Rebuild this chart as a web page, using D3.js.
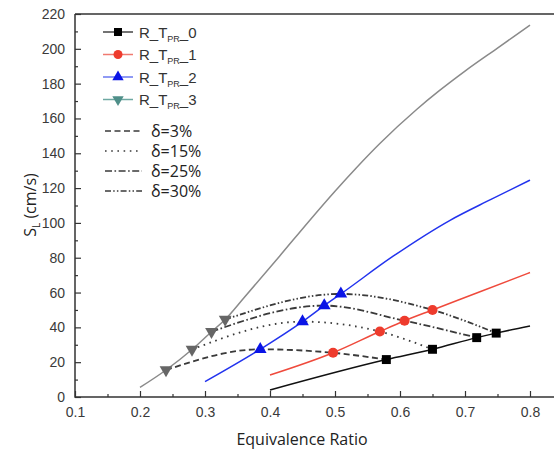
<!DOCTYPE html>
<html>
<head>
<meta charset="utf-8">
<script src="https://cdn.jsdelivr.net/npm/d3@7"></script>
<style>
  html, body { margin: 0; padding: 0; background: #fff; }
  svg { display: block; }
</style>
</head>
<body>
<svg id="chart" width="554" height="452"></svg>
<script>
// Laminar flame speed curves, one per R_T_PR case
const phi0 = [0.40, 0.579, 0.65, 0.718, 0.748, 0.80];
const sl0  = [4.0, 21.5, 27.4, 34.1, 36.7, 40.8];
const phi1 = [0.40, 0.497, 0.569, 0.607, 0.65, 0.72, 0.80];
const sl1  = [12.6, 25.4, 37.6, 43.8, 50.0, 60.0, 71.5];
const phi2 = [0.30, 0.385, 0.45, 0.4835, 0.509, 0.59, 0.677, 0.74, 0.80];
const sl2  = [8.8, 27.4, 43.3, 52.5, 59.2, 81.0, 101.5, 113.5, 124.6];
const phi3 = [0.20, 0.24, 0.28, 0.31, 0.331, 0.36, 0.415, 0.46, 0.50, 0.533, 0.569, 0.626, 0.66, 0.70, 0.75, 0.80];
const sl3  = [5.5, 15.5, 27.3, 37.5, 44.5, 57.0, 81.0, 101.0, 118.2, 131.7, 145.6, 165.3, 175.8, 187.2, 200.4, 213.6];

// Marked points on each curve, ordered by delta (3%, 15%, 25%, 30%)
const markPhi0 = [0.579, 0.65, 0.718, 0.748];
const markSl0  = [21.5, 27.4, 34.1, 36.7];
const markPhi1 = [0.497, 0.569, 0.607, 0.65];
const markSl1  = [25.4, 37.6, 43.8, 50.0];
const markPhi2 = [0.385, 0.45, 0.4835, 0.509];
const markSl2  = [27.4, 43.3, 52.5, 59.2];
const markPhi3 = [0.24, 0.28, 0.31, 0.331];
const markSl3  = [15.5, 27.3, 37.5, 44.5];

const seriesNames = ["0", "1", "2", "3"];
const deltaLabels = ["δ=3%", "δ=15%", "δ=25%", "δ=30%"];
const xTicks = [0.1, 0.2, 0.3, 0.4, 0.5, 0.6, 0.7, 0.8];
const yTicks = [0, 20, 40, 60, 80, 100, 120, 140, 160, 180, 200, 220];

const zip = (a, b) => a.map((v, i) => [v, b[i]]);

const series = [
  { name: seriesNames[0], pts: zip(phi0, sl0), marks: zip(markPhi0, markSl0), line: "#111", fill: "#000", legendLine: "#444", legendFill: "#000", shape: d3.symbolSquare, size: 80, rot: 0 },
  { name: seriesNames[1], pts: zip(phi1, sl1), marks: zip(markPhi1, markSl1), line: "#ef4a3c", fill: "#ee3b2d", legendLine: "#f07a70", legendFill: "#ee3b2d", shape: d3.symbolCircle, size: 80, rot: 0 },
  { name: seriesNames[2], pts: zip(phi2, sl2), marks: zip(markPhi2, markSl2), line: "#2233ee", fill: "#0a14e6", legendLine: "#6a78f0", legendFill: "#0a14e6", shape: d3.symbolTriangle, size: 70, rot: 0 },
  { name: seriesNames[3], pts: zip(phi3, sl3), marks: zip(markPhi3, markSl3), line: "#8a8a8a", fill: "#666", legendLine: "#6ea8a2", legendFill: "#4f8f89", shape: d3.symbolTriangle, size: 70, rot: 180 }
];

const dashes = ["6,3.5", "1.6,4.6", "7,2.5,1.6,2.5", "6,2.2,1.5,2.2,1.5,2.2"];

const svg = d3.select("#chart");
const x = d3.scaleLinear().domain([0.1, 0.8]).range([75, 530]);
const y = d3.scaleLinear().domain([0, 220]).range([397, 14]);

const axisColor = "#333";
const labelColor = "#3a3a3a";

// plot frame (open on the right, running past the page edge)
svg.append("path")
  .attr("d", `M75,14 H600 M75,14 V397 H600`)
  .attr("fill", "none").attr("stroke", axisColor).attr("stroke-width", 1.5);

// x axis ticks (inward)
const xAxis = d3.axisBottom(x).tickValues(xTicks).tickSize(-6).tickPadding(10)
  .tickFormat(d3.format(".1f"));
const gx = svg.append("g").attr("transform", "translate(0,397)").call(xAxis);
gx.select(".domain").remove();
gx.selectAll(".tick line").attr("stroke", axisColor).attr("stroke-width", 1.2);
gx.selectAll(".tick text").attr("fill", labelColor)
  .style("font-family", "'Liberation Sans', Arial, sans-serif").style("font-size", "14px");
const xMinor = d3.axisBottom(x).tickValues(xTicks.slice(0, -1).map(v => v + 0.05).concat([0.85])).tickSize(-3).tickFormat("");
const gxm = svg.append("g").attr("transform", "translate(0,397)").call(xMinor);
gxm.select(".domain").remove();
gxm.selectAll(".tick line").attr("stroke", axisColor).attr("stroke-width", 1.2);

// y axis ticks (inward)
const yAxis = d3.axisLeft(y).tickValues(yTicks).tickSize(-6).tickPadding(10);
const gy = svg.append("g").attr("transform", "translate(75,0)").call(yAxis);
gy.select(".domain").remove();
gy.selectAll(".tick line").attr("stroke", axisColor).attr("stroke-width", 1.2);
gy.selectAll(".tick text").attr("fill", labelColor)
  .style("font-family", "'Liberation Sans', Arial, sans-serif").style("font-size", "14px");
const yMinor = d3.axisLeft(y).tickValues(yTicks.slice(0, -1).map(v => v + 10)).tickSize(-3).tickFormat("");
const gym = svg.append("g").attr("transform", "translate(75,0)").call(yMinor);
gym.select(".domain").remove();
gym.selectAll(".tick line").attr("stroke", axisColor).attr("stroke-width", 1.2);

// axis titles
svg.append("text")
  .attr("x", 302).attr("y", 445).attr("text-anchor", "middle")
  .attr("fill", "#222")
  .style("font-family", "'Open Sans', sans-serif").style("font-size", "16px")
  .text("Equivalence Ratio");

const yTitle = svg.append("text")
  .attr("transform", "translate(36,205) rotate(-90)")
  .attr("text-anchor", "middle").attr("fill", "#222")
  .style("font-family", "'Open Sans', sans-serif").style("font-size", "16px");
yTitle.append("tspan").text("S");
yTitle.append("tspan").attr("dy", 4).style("font-size", "10px").text("L");
yTitle.append("tspan").attr("dy", -4).text(" (cm/s)");

// series curves
const curveLine = d3.line().x(d => x(d[0])).y(d => y(d[1])).curve(d3.curveMonotoneX);
series.forEach(s => {
  svg.append("path").datum(s.pts)
    .attr("d", curveLine)
    .attr("fill", "none").attr("stroke", s.line).attr("stroke-width", 1.5);
});

// delta lines joining the i-th marked point of every curve
const deltaLine = d3.line().x(d => x(d[0])).y(d => y(d[1])).curve(d3.curveMonotoneX);
deltaLabels.forEach((lab, i) => {
  const pts = series.slice().reverse().map(s => s.marks[i]);
  svg.append("path").datum(pts)
    .attr("d", deltaLine)
    .attr("fill", "none").attr("stroke", "#3a3a3a").attr("stroke-width", 1.8)
    .attr("stroke-dasharray", dashes[i]);
});

// markers
series.forEach(s => {
  svg.append("g").selectAll("path").data(s.marks).join("path")
    .attr("d", d3.symbol().type(s.shape).size(s.size))
    .attr("transform", d => `translate(${x(d[0])},${y(d[1])}) rotate(${s.rot})`)
    .attr("fill", s.fill);
});

// legend: series
const legFont = "'Liberation Sans', Arial, sans-serif";
const legRowY = [32, 54.5, 77, 99.5];
series.forEach((s, i) => {
  const g = svg.append("g").attr("transform", `translate(0,${legRowY[i]})`);
  g.append("line").attr("x1", 103).attr("x2", 133).attr("y1", 0).attr("y2", 0)
    .attr("stroke", s.legendLine).attr("stroke-width", 1.5);
  g.append("path").attr("d", d3.symbol().type(s.shape).size(s.size * 0.8))
    .attr("transform", `translate(118,0) rotate(${s.rot})`).attr("fill", s.legendFill);
  const t = g.append("text").attr("x", 139).attr("y", 5.5).attr("fill", "#333")
    .style("font-family", legFont).style("font-size", "15px");
  t.append("tspan").text("R_T");
  t.append("tspan").attr("dy", 4).style("font-size", "9px").text("PR");
  t.append("tspan").attr("dy", -4).text("_" + s.name);
});

// legend: delta styles
const deltaRowY = [131, 151, 171, 191];
deltaLabels.forEach((lab, i) => {
  const g = svg.append("g").attr("transform", `translate(0,${deltaRowY[i]})`);
  g.append("line").attr("x1", 105).attr("x2", 142).attr("y1", 0).attr("y2", 0)
    .attr("stroke", "#3a3a3a").attr("stroke-width", 1.5).attr("stroke-dasharray", dashes[i]);
  g.append("text").attr("x", 151).attr("y", 6).attr("fill", "#222")
    .style("font-family", "'Open Sans', sans-serif").style("font-size", "16px")
    .text(lab);
});
</script>
</body>
</html>
